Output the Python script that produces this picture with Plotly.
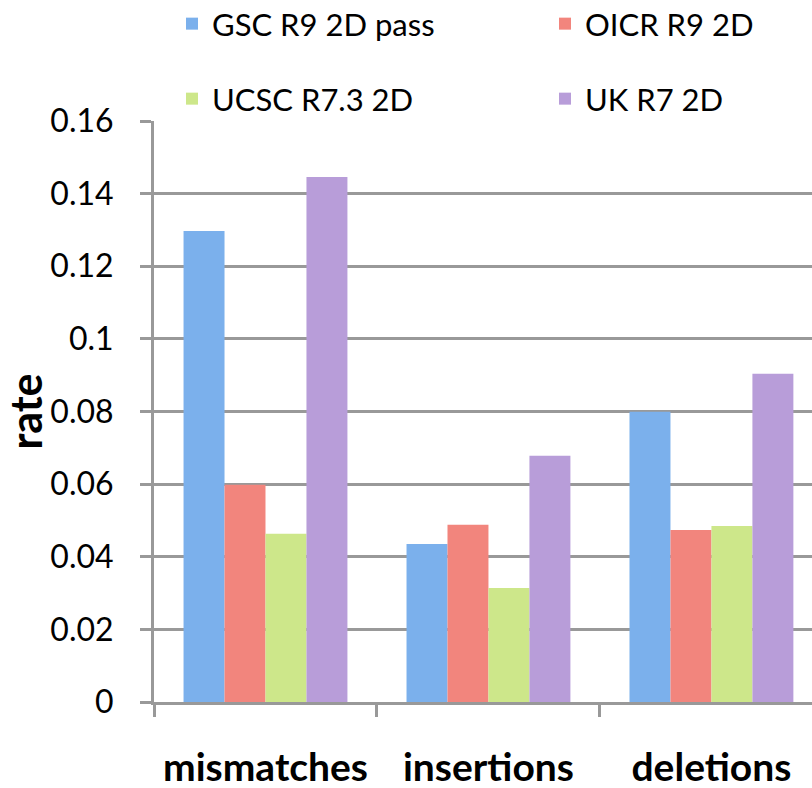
import plotly.graph_objects as go

categories = ["mismatches", "insertions", "deletions"]
series_names = ["GSC R9 2D pass", "OICR R9 2D", "UCSC R7.3 2D", "UK R7 2D"]
gsc = [0.1297, 0.0435, 0.0799]
oicr = [0.0598, 0.0488, 0.0474]
ucsc = [0.0463, 0.0314, 0.0485]
uk = [0.1446, 0.0678, 0.0904]
y_ticks = [0, 0.02, 0.04, 0.06, 0.08, 0.1, 0.12, 0.14, 0.16]
y_tick_labels = ["0", "0.02", "0.04", "0.06", "0.08", "0.1", "0.12", "0.14", "0.16"]

colors = ["#7BB0EC", "#F2857D", "#CDE78A", "#B89DD9"]
legend_ids = ["legend", "legend2", "legend3", "legend4"]
legend_pos = [(172, 24), (545, 24), (172, 99), (545, 99)]
values = [gsc, oicr, ucsc, uk]

W, H = 812, 788
FONT = "Lato"

fig = go.Figure()
for name, vals, col, lg in zip(series_names, values, colors, legend_ids):
    fig.add_trace(go.Bar(
        x=categories, y=vals, name=name,
        marker=dict(color=col, line=dict(width=0)),
        legend=lg,
    ))

legend_common = dict(
    orientation="h", xref="container", yref="container",
    xanchor="left", yanchor="middle",
    font=dict(family=FONT, size=31, color="#000"),
    bgcolor="rgba(0,0,0,0)",
)
legend_layout = {}
for lg, (px, py) in zip(legend_ids, legend_pos):
    legend_layout[lg] = dict(x=px / W, y=1 - py / H, **legend_common)

fig.update_layout(
    width=W, height=H,
    margin=dict(l=154, r=0, t=121, b=86, autoexpand=False),
    paper_bgcolor="white", plot_bgcolor="white",
    barmode="group", bargap=0.265, bargroupgap=0,
    font=dict(family=FONT, color="#000"),
    showlegend=True,
    xaxis=dict(
        range=[-0.5, 2.451],
        showline=True, linecolor="#999999", linewidth=3,
        ticks="outside", tickson="boundaries", ticklen=12, tickwidth=3,
        tickcolor="#999999", showgrid=False,
        tickfont=dict(family=FONT, size=39, color="#000", weight="bold"),
        ticklabelstandoff=29,
    ),
    yaxis=dict(
        range=[0, 0.16],
        tickvals=y_ticks, ticktext=y_tick_labels,
        showline=True, linecolor="#999999", linewidth=3,
        ticks="outside", ticklen=11, tickwidth=3, tickcolor="#999999",
        showgrid=True, gridcolor="#999999", gridwidth=2.5,
        zeroline=False,
        tickfont=dict(family=FONT, size=32, color="#000"),
        ticklabelstandoff=20,
        title=dict(text="rate", font=dict(family=FONT, size=43, color="#000", weight="bold"),
                   standoff=6),
    ),
    **legend_layout,
)

fig.write_html("out.html")
